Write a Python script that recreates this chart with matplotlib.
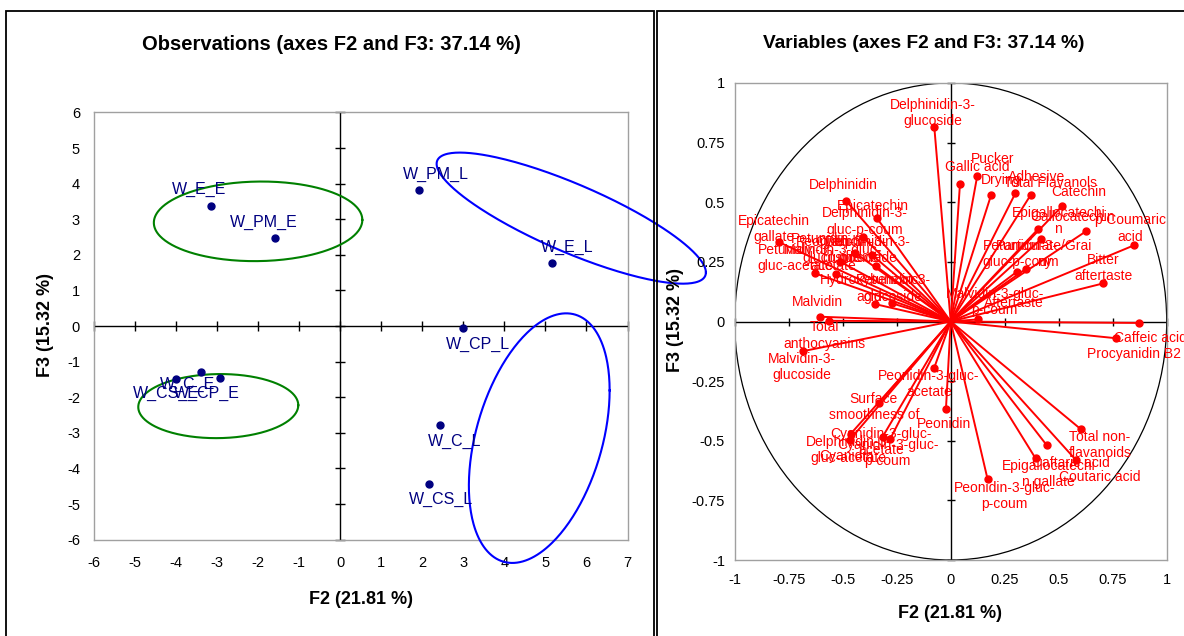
import numpy as np
import matplotlib
matplotlib.use("Agg")
import matplotlib.pyplot as plt
from matplotlib.patches import Rectangle, Circle

plt.rcParams['font.family'] = ['Liberation Sans', 'DejaVu Sans']
plt.rcParams['axes.unicode_minus'] = False

W, H, DPI = 1184, 636, 100

# ---------------- observations (scores on F2 / F3) ----------------
obs_names = ["W_E_E", "W_PM_E", "W_PM_L", "W_E_L", "W_CP_L",
             "W_C_L", "W_CS_L", "W_C_E", "W_CP_E", "W_CS_E"]
obs_f2 = [-3.14, -1.58, 1.91, 5.16, 3.00, 2.42, 2.16, -3.38, -2.93, -4.01]
obs_f3 = [3.37, 2.46, 3.81, 1.77, -0.05, -2.78, -4.44, -1.28, -1.45, -1.49]
obs_lab_dx = [-0.29, -0.27, 0.42, 0.36, 0.36, 0.38, 0.30, -0.33, -0.31, -0.24]
obs_lab_dy = [0.46, 0.46, 0.44, 0.44, -0.47, -0.46, -0.43, -0.36, -0.45, -0.41]

# group ellipses: centre and shape matrix
ell_cx = [-2.00, -2.97, 5.63, 4.85]
ell_cy = [2.94, -2.25, 3.03, -3.15]
ell_sxx = [6.45, 3.80, 10.76, 2.94]
ell_syy = [1.25, 0.81, 3.39, 12.29]
ell_sxy = [0.10, 0.05, -5.00, 2.30]
ell_colors = ["#008000", "#008000", "#0000FF", "#0000FF"]

obs_xticks = list(range(-6, 8))
obs_yticks = list(range(-6, 7))

# ---------------- variables (correlations with F2 / F3) ----------------
var_names = [
    "Delphinidin-3-\nglucoside", "Gallic acid", "Pucker", "Drying", "Adhesive",
    "Total Flavanols", "Catechin", "Epigallocatechi\nn", "Gallocatechin",
    "p-Coumaric\nacid", "Particulate/Grai\nny", "Petunidin-3-\ngluc-p-coum",
    "Aftertaste", "Malvidin-3-gluc-\np-coum", "Bitter\naftertaste",
    "Caffeic acid", "Procyanidin B2", "Total non-\nflavanoids", "Caftaric acid",
    "Epigallocatechi\nn gallate", "Coutaric acid", "Peonidin-3-gluc-\np-coum",
    "Peonidin", "Peonidin-3-gluc-\nacetate", "Surface\nsmoothness of",
    "Cyanidin-3-gluc-\nacetate", "Cyanidin-3-gluc-\np-coum",
    "Delphinidin-3-\ngluc-acetate", "Cyanidin", "Delphinidin", "Epicatechin",
    "Delphinidin-3-\ngluc-p-coum", "Epicatechin\ngallate",
    "Petunidin-3-\ngluc-acetate", "Malvidin-3-gluc-\nacetate",
    "Peonidin-3-\nglucoside", "Cyanidin-3-\nglucoside", "Petunidin",
    "Delphinidin-3-\nglucoside", "Hydroxybenzoic\nacid", "Petunidin-3-\nglucoside",
    "Malvidin", "Total\nanthocyanins", "Malvidin-3-\nglucoside",
]
var_f2 = [
    -0.076, 0.043, 0.123, 0.187, 0.299,
    0.370, 0.515, 0.403, 0.626,
    0.850, 0.418, 0.347,
    0.307, 0.128, 0.707,
    0.764, 0.873, 0.603, 0.444,
    0.393, 0.580, 0.171,
    -0.022, -0.077, -0.332,
    -0.280, -0.315,
    -0.462, -0.468, -0.485, -0.341,
    -0.407, -0.796,
    -0.628, -0.532,
    -0.443, -0.366, -0.512,
    -0.347, -0.350, -0.270,
    -0.605, -0.563, -0.682,
]
var_f3 = [
    0.816, 0.578, 0.611, 0.530, 0.537,
    0.530, 0.483, 0.386, 0.378,
    0.320, 0.345, 0.220,
    0.209, 0.009, 0.160,
    -0.070, -0.006, -0.452, -0.518,
    -0.574, -0.581, -0.662,
    -0.367, -0.196, -0.340,
    -0.492, -0.483,
    -0.470, -0.497, 0.507, 0.433,
    0.353, 0.333,
    0.202, 0.199,
    0.288, 0.280, 0.251,
    0.233, 0.073, 0.076,
    0.020, 0.003, -0.124,
]
# label centres relative to each point (None: label starts at the point)
var_lab_dx = [
    -0.007, 0.079, 0.069, 0.046, 0.099,
    0.093, 0.080, 0.095, -0.063,
    -0.020, 0.015, -0.025,
    -0.015, 0.076, 0.001,
    None, -0.024, 0.088, 0.112,
    0.061, 0.111, 0.079,
    -0.009, -0.023, -0.024,
    -0.043, 0.023,
    -0.011, -0.017, -0.012, -0.017,
    0.010, -0.022,
    -0.093, -0.013,
    -0.107, -0.094, -0.093,
    -0.037, -0.028, 0.003,
    -0.013, -0.020, -0.006,
]
var_lab_dy = [
    0.057, 0.069, 0.069, 0.062, 0.068,
    0.052, 0.059, 0.037, 0.062,
    0.070, -0.062, 0.063,
    -0.130, 0.074, 0.064,
    0.0, -0.130, -0.065, -0.076,
    -0.066, -0.072, -0.068,
    -0.063, -0.065, -0.020,
    -0.014, -0.068,
    -0.070, -0.067, 0.065, 0.051,
    0.066, 0.056,
    0.065, 0.068,
    0.013, 0.021, 0.094,
    0.068, 0.065, 0.062,
    0.063, -0.062, -0.067,
]
var_xticks = [-1, -0.75, -0.5, -0.25, 0, 0.25, 0.5, 0.75, 1]
var_xticklabels = ["-1", "-0.75", "-0.5", "-0.25", "0", "0.25", "0.5", "0.75", "1"]

NAVY = "#000080"
RED = "#FF0000"
GREY = "#A0A0A0"

fig = plt.figure(figsize=(W / DPI, H / DPI), dpi=DPI)


def px_axes(left, top, right, bottom):
    return fig.add_axes([left / W, 1 - bottom / H, (right - left) / W, (bottom - top) / H])


def frame_box(left, right):
    top = 1 - 11 / H
    fig.add_artist(Rectangle((left / W, -0.2), (right - left) / W, top + 0.2,
                             transform=fig.transFigure, fill=False,
                             edgecolor="black", linewidth=1.3, clip_on=False))


frame_box(6, 654)
frame_box(657, 1300)


def style_axes(ax, xt, yt, xtl, ytl, xpad, ypad, tick_len):
    ax.set_xticks(xt)
    ax.set_yticks(yt)
    ax.set_xticklabels(xtl)
    ax.set_yticklabels(ytl)
    ax.tick_params(axis="both", length=0, labelsize=10.5, colors="black")
    ax.tick_params(axis="x", pad=xpad)
    ax.tick_params(axis="y", pad=ypad)
    for s in ax.spines.values():
        s.set_color(GREY)
        s.set_linewidth(1.0)
    ax.axhline(0, color="black", lw=1.0, zorder=1)
    ax.axvline(0, color="black", lw=1.0, zorder=1)
    ax.plot(xt, np.zeros(len(xt)), ls="none", marker="|", ms=tick_len,
            mew=1.0, color="black", zorder=1, clip_on=False)
    ax.plot(np.zeros(len(yt)), yt, ls="none", marker="_", ms=tick_len,
            mew=1.0, color="black", zorder=1, clip_on=False)


# ---------------- left panel: observations ----------------
axL = px_axes(93.9, 112.4, 627.5, 539.6)
axL.set_xlim(-6, 7)
axL.set_ylim(-6, 6)
style_axes(axL, obs_xticks, obs_yticks, [str(v) for v in obs_xticks],
           [str(v) for v in obs_yticks], 12, 10, 7)

t = np.linspace(0, 2 * np.pi, 300)
for cx, cy, sxx, syy, sxy, col in zip(ell_cx, ell_cy, ell_sxx, ell_syy, ell_sxy, ell_colors):
    L = np.linalg.cholesky(np.array([[sxx, sxy], [sxy, syy]]))
    pts = L @ np.vstack([np.cos(t), np.sin(t)])
    axL.plot(cx + pts[0], cy + pts[1], color=col, lw=1.5, clip_on=False, zorder=3)

axL.plot(obs_f2, obs_f3, ls="none", marker="o", ms=5, color=NAVY, zorder=4)
for name, x, y, dx, dy in zip(obs_names, obs_f2, obs_f3, obs_lab_dx, obs_lab_dy):
    axL.text(x + dx, y + dy, name, ha="center", va="center", color=NAVY,
             fontsize=11.5, zorder=5)

# ---------------- right panel: variables ----------------
axR = px_axes(734.7, 83, 1166.7, 560)
axR.set_xlim(-1, 1)
axR.set_ylim(-1, 1)
style_axes(axR, var_xticks, var_xticks, var_xticklabels, var_xticklabels, 9, 7, 6)
axR.add_patch(Circle((0, 0), 1.0, fill=False, edgecolor="black", lw=0.9, zorder=1))

for name, x, y, dx, dy in zip(var_names, var_f2, var_f3, var_lab_dx, var_lab_dy):
    axR.plot([0, x], [0, y], color=RED, lw=1.4, zorder=3)
    axR.plot([x], [y], ls="none", marker="o", ms=5, color=RED, zorder=4)
    if dx is None:
        axR.text(x - 0.01, y, name, ha="left", va="center", color=RED,
                 fontsize=10, zorder=5, clip_on=False)
    else:
        axR.text(x + dx, y + dy, name, ha="center", va="center", color=RED,
                 fontsize=10, zorder=5, clip_on=False)

# ---------------- titles and axis titles ----------------
fig.text(331 / W, 1 - 45 / H, "Observations (axes F2 and F3: 37.14 %)",
         ha="center", va="center", fontsize=14.5, fontweight="bold")
fig.text(924 / W, 1 - 43 / H, "Variables (axes F2 and F3: 37.14 %)",
         ha="center", va="center", fontsize=13.8, fontweight="bold")
fig.text(361 / W, 1 - 600 / H, "F2 (21.81 %)", ha="center", va="center",
         fontsize=13, fontweight="bold")
fig.text(950 / W, 1 - 613 / H, "F2 (21.81 %)", ha="center", va="center",
         fontsize=13, fontweight="bold")
fig.text(46 / W, 1 - 325 / H, "F3 (15.32 %)", ha="center", va="center",
         fontsize=13, fontweight="bold", rotation=90)
fig.text(675 / W, 1 - 320 / H, "F3 (15.32 %)", ha="center", va="center",
         fontsize=13, fontweight="bold", rotation=90)

fig.savefig("out.png", dpi=DPI)
